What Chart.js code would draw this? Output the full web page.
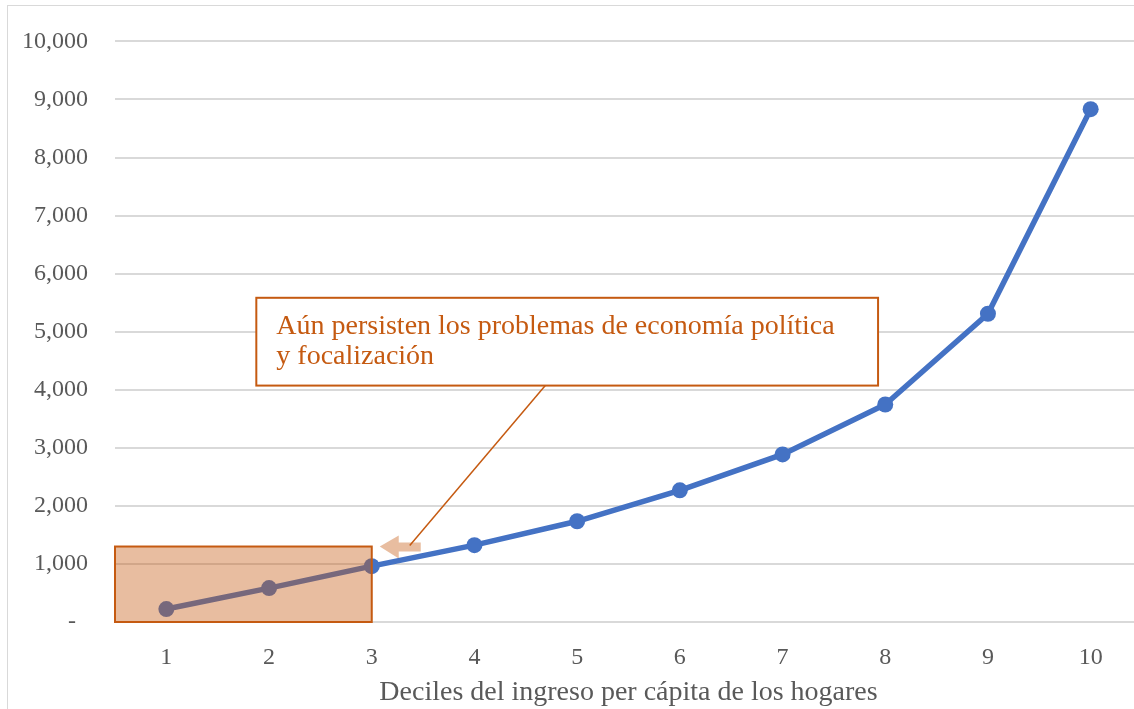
<!DOCTYPE html>
<html>
<head>
<meta charset="utf-8">
<script src="https://cdn.jsdelivr.net/npm/chart.js@4.4.1/dist/chart.umd.min.js"></script>
<style>
  html, body { margin: 0; padding: 0; background: #fff; overflow: hidden; }
  .frame { position: absolute; left: 7px; top: 5px; width: 1200px; height: 800px; border: 1px solid #d9d9d9; }
  .chart { position: absolute; left: 0; top: 0; width: 1160px; height: 709px; }
</style>
</head>
<body>
<div class="frame"></div>
<div class="chart"><canvas id="lineChart"></canvas></div>
<script>
const deciles = ["1", "2", "3", "4", "5", "6", "7", "8", "9", "10"];
const values = [223, 584, 962, 1323, 1735, 2268, 2887, 3746, 5309, 8832];
const yTicks = [0, 1000, 2000, 3000, 4000, 5000, 6000, 7000, 8000, 9000, 10000];
const xTitle = "Deciles del ingreso per cápita de los hogares";
const noteLines = ["Aún persisten los problemas de economía política", "y focalización"];

const ORANGE = "#c55a11";
const SHADE = "rgba(197, 90, 17, 0.4)";
const FONT = "'Liberation Serif', serif";

const notePlugin = {
  id: "note",
  afterDatasetsDraw(chart) {
    const { ctx, chartArea, scales } = chart;
    const x = scales.x, y = scales.y;

    // shaded box over the first three deciles
    const bx0 = chartArea.left;
    const bx1 = x.getPixelForValue(2);
    const by0 = y.getPixelForValue(1300);
    const by1 = y.getPixelForValue(0);
    ctx.save();
    ctx.fillStyle = SHADE;
    ctx.fillRect(bx0, by0, bx1 - bx0, by1 - by0);
    ctx.strokeStyle = ORANGE;
    ctx.lineWidth = 2;
    ctx.strokeRect(bx0, by0, bx1 - bx0, by1 - by0);

    // small arrow pointing at the box
    const ay = by0;
    const tip = bx1 + 8;
    ctx.fillStyle = SHADE;
    ctx.beginPath();
    ctx.moveTo(tip, ay);
    ctx.lineTo(tip + 19, ay - 11);
    ctx.lineTo(tip + 19, ay - 4);
    ctx.lineTo(tip + 41, ay - 4);
    ctx.lineTo(tip + 41, ay + 5);
    ctx.lineTo(tip + 19, ay + 5);
    ctx.lineTo(tip + 19, ay + 12);
    ctx.closePath();
    ctx.fill();

    // text box
    const tx0 = x.getPixelForValue(0.876);
    const tx1 = x.getPixelForValue(6.93);
    const ty0 = y.getPixelForValue(5584);
    const ty1 = y.getPixelForValue(4072);

    // leader line
    ctx.strokeStyle = ORANGE;
    ctx.lineWidth = 1.5;
    ctx.beginPath();
    ctx.moveTo(x.getPixelForValue(3.69), ty1);
    ctx.lineTo(tip + 30, ay - 1);
    ctx.stroke();

    ctx.fillStyle = "#fff";
    ctx.fillRect(tx0, ty0, tx1 - tx0, ty1 - ty0);
    ctx.lineWidth = 2;
    ctx.strokeRect(tx0, ty0, tx1 - tx0, ty1 - ty0);

    ctx.fillStyle = ORANGE;
    ctx.font = "28px " + FONT;
    ctx.textBaseline = "alphabetic";
    ctx.textAlign = "left";
    noteLines.forEach((t, i) => ctx.fillText(t, tx0 + 20, ty0 + 36 + i * 30));
    ctx.restore();
  },
};

new Chart(document.getElementById("lineChart").getContext("2d"), {
  type: "line",
  data: {
    labels: deciles,
    datasets: [
      {
        data: values,
        borderColor: "#4472c4",
        backgroundColor: "#4472c4",
        borderWidth: 5.5,
        pointRadius: 8,
        pointHoverRadius: 8,
        pointBackgroundColor: "#4472c4",
        pointBorderWidth: 0,
        tension: 0,
      },
    ],
  },
  options: {
    responsive: true,
    maintainAspectRatio: false,
    animation: false,
    layout: { padding: { top: 40, right: 18, bottom: 0, left: 0 } },
    plugins: {
      legend: { display: false },
      tooltip: { enabled: false },
    },
    scales: {
      x: {
        offset: true,
        afterFit(axis) {
          axis.height = 87;
        },
        grid: { display: false, drawTicks: false },
        border: { display: false },
        ticks: {
          color: "#595959",
          font: { family: FONT, size: 24 },
          padding: 21,
          maxRotation: 0,
        },
        title: {
          display: true,
          text: xTitle,
          color: "#595959",
          font: { family: FONT, size: 28 },
          padding: { top: 0, bottom: 0 },
        },
      },
      y: {
        min: 0,
        max: 10000,
        afterBuildTicks(axis) {
          axis.ticks = yTicks.map((v) => ({ value: v }));
        },
        afterFit(axis) {
          axis.width = 115;
        },
        grid: { color: "#d9d9d9", lineWidth: 2, drawTicks: false },
        border: { display: false },
        ticks: {
          color: "#595959",
          font: { family: FONT, size: 24 },
          padding: 27,
          callback: (v) => (v === 0 ? "-  " : v.toLocaleString("en-US")),
        },
      },
    },
  },
  plugins: [notePlugin],
});
</script>
</body>
</html>
